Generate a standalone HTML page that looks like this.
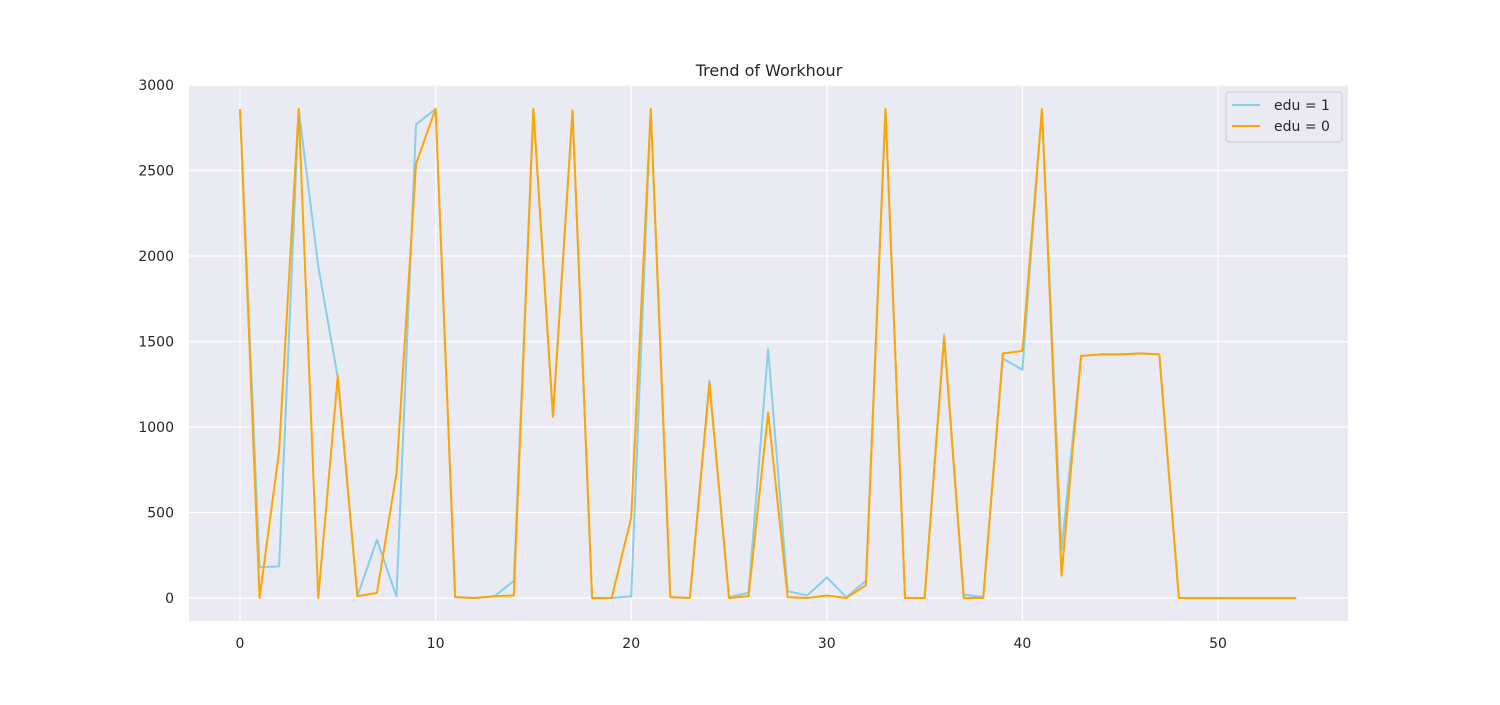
<!DOCTYPE html>
<html><head><meta charset="utf-8">
<style>
body{margin:0;background:#fff;font-family:"Liberation Sans","DejaVu Sans",sans-serif;}
svg text{font-family:"DejaVu Sans","Liberation Sans",sans-serif;fill:#262626;}
</style></head>
<body>
<svg id="chart" width="1500" height="700" xmlns="http://www.w3.org/2000/svg">
<rect x="0" y="0" width="1500" height="700" fill="#fff"/>
<rect x="189" y="85" width="1159" height="536" fill="#eaeaf2"/>
<g id="grid"></g>
<g id="series"></g>
<g id="ticks"></g>
<text x="769" y="76" font-size="16" text-anchor="middle">Trend of Workhour</text>
<g>
<rect x="1226" y="92" width="116" height="50" rx="3" fill="#eaeaf2" stroke="#cccccc" fill-opacity="0.8"/>
<line x1="1232" y1="105" x2="1260" y2="105" stroke="#87ceeb" stroke-width="2"/>
<text x="1274" y="110" font-size="14">edu = 1</text>
<line x1="1232" y1="126" x2="1260" y2="126" stroke="#ffa500" stroke-width="2"/>
<text x="1274" y="131" font-size="14">edu = 0</text>
</g>
</svg>
<script>
const edu1 = [2860,180,185,2860,1940,1290,10,340,10,2770,2860,5,0,10,100,2860,1060,2850,0,0,10,2860,5,0,1270,5,30,1455,40,15,120,5,100,2860,0,0,1540,20,5,1400,1335,2860,280,1415,1425,1425,1430,1425,0,0,0,0,0,0,0];
const edu0 = [2860,0,860,2860,0,1300,10,30,730,2540,2860,5,0,10,15,2860,1060,2850,0,0,470,2860,5,0,1255,0,10,1085,5,0,15,0,75,2860,0,0,1525,0,0,1430,1445,2860,130,1415,1425,1425,1430,1425,0,0,0,0,0,0,0];
const xTicks = [0,10,20,30,40,50];
const yTicks = [0,500,1000,1500,2000,2500,3000];
const NS="http://www.w3.org/2000/svg";
function xs(v){return 240+v*(1218-240)/50;}
function ys(v){return 598-v*(598-85)/3000;}
const grid=document.getElementById('grid'), ticks=document.getElementById('ticks'), series=document.getElementById('series');
xTicks.forEach(t=>{
  const l=document.createElementNS(NS,'line');
  
  
  l.setAttribute('x1',xs(t));l.setAttribute('x2',xs(t));l.setAttribute('y1',85);l.setAttribute('y2',621);
  l.setAttribute('stroke','#fff');l.setAttribute('stroke-width','1.2');grid.appendChild(l);
  const tx=document.createElementNS(NS,'text');
  
  
  tx.setAttribute('x',xs(t));tx.setAttribute('y',648);tx.setAttribute('font-size','14');tx.setAttribute('text-anchor','middle');
  tx.textContent=t;ticks.appendChild(tx);
});
yTicks.forEach(t=>{
  const l=document.createElementNS(NS,'line');
  
  
  l.setAttribute('x1',189);l.setAttribute('x2',1348);l.setAttribute('y1',ys(t));l.setAttribute('y2',ys(t));
  l.setAttribute('stroke','#fff');l.setAttribute('stroke-width','1.2');grid.appendChild(l);
  const tx=document.createElementNS(NS,'text');
  
  
  tx.setAttribute('x',174);tx.setAttribute('y',ys(t)+5);tx.setAttribute('font-size','14');tx.setAttribute('text-anchor','end');
  tx.textContent=t;ticks.appendChild(tx);
});
function draw(data,color,name){
  const p=document.createElementNS(NS,'polyline');
  
  
  p.setAttribute('points',data.map((v,i)=>xs(i)+','+ys(v)).join(' '));
  p.setAttribute('fill','none');p.setAttribute('stroke',color);p.setAttribute('stroke-width','2');
  p.setAttribute('stroke-linejoin','round');
  series.appendChild(p);
}
draw(edu1,'#87ceeb','line-edu-1');
draw(edu0,'#ffa500','line-edu-0');
</script>
</body></html>
